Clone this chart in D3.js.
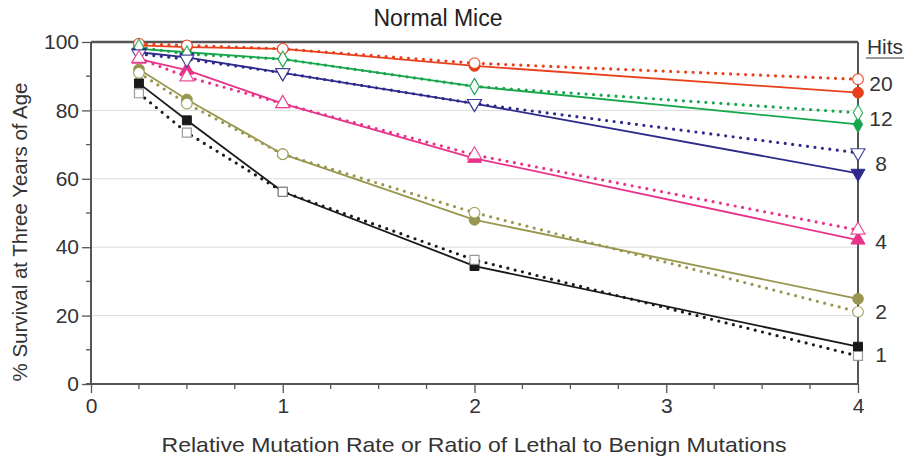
<!DOCTYPE html>
<html>
<head>
<meta charset="utf-8">
<script src="https://cdn.jsdelivr.net/npm/d3@7"></script>
<style>
  html, body { margin: 0; padding: 0; background: #fff; }
  svg { display: block; font-family: "Liberation Sans", Arial, sans-serif; }
</style>
</head>
<body>
<svg id="chart" width="907" height="464"></svg>
<script>
// ---------- data ----------
const xValues = [0.25, 0.5, 1, 2, 4];
const hitLabels = ["20", "12", "8", "4", "2", "1"];

const hits20Solid  = [99, 98.5, 98, 93, 85.2];
const hits20Dotted = [99.5, 99, 98, 93.8, 89.1];
const hits12Solid  = [98, 97, 95, 87, 75.9];
const hits12Dotted = [98.5, 96.5, 95, 87, 79.3];
const hits8Solid   = [97, 95.5, 91, 82, 61.6];
const hits8Dotted  = [96.5, 95, 91, 82, 67.6];
const hits4Solid   = [95, 91.8, 82, 66, 42.1];
const hits4Dotted  = [95.2, 89.8, 82, 67, 45];
const hits2Solid   = [92, 83.2, 67.2, 48, 24.9];
const hits2Dotted  = [91, 82, 67.2, 50.1, 21.1];
const hits1Solid   = [87.9, 77.1, 56.2, 34.5, 10.9];
const hits1Dotted  = [85, 73.5, 56.2, 36.3, 8.2];

const xTicks = [0, 1, 2, 3, 4];
const yTicks = [0, 20, 40, 60, 80, 100];
const gridValues = [20, 40, 60, 80];

const series = [
  {hits: "20", color: "#e8401c", shape: "circle",   solid: hits20Solid, dotted: hits20Dotted},
  {hits: "12", color: "#17a64c", shape: "diamond",  solid: hits12Solid, dotted: hits12Dotted},
  {hits: "8",  color: "#2d2a8c", shape: "down",     solid: hits8Solid,  dotted: hits8Dotted},
  {hits: "4",  color: "#e8338a", shape: "up",       solid: hits4Solid,  dotted: hits4Dotted},
  {hits: "2",  color: "#999650", shape: "circle",   solid: hits2Solid,  dotted: hits2Dotted},
  {hits: "1",  color: "#1a1a1a", shape: "square",   solid: hits1Solid,  dotted: hits1Dotted}
];

// ---------- layout ----------
const svg = d3.select("#chart");
const pL = 91, pR = 858, pT = 42, pB = 384;
const x = d3.scaleLinear().domain([0, 4]).range([pL, pR]);
const y = d3.scaleLinear().domain([0, 100]).range([pB, pT]);
const axisColor = "#555";
const textColor = "#333";
const fontFam = "'Liberation Sans', Arial, sans-serif";

// gridlines
svg.append("g").selectAll("line").data(gridValues).join("line")
  .attr("x1", pL).attr("x2", pR)
  .attr("y1", d => y(d)).attr("y2", d => y(d))
  .attr("stroke", "#dcdcdc").attr("stroke-width", 1);

// y axis
const yAxis = d3.axisLeft(y).tickValues(yTicks).tickSize(9).tickPadding(3).tickFormat(d3.format("d"));
const gy = svg.append("g").attr("transform", `translate(${pL},0)`).call(yAxis);
gy.select(".domain").remove();
gy.selectAll(".tick line").attr("stroke", axisColor).attr("stroke-width", 1.3);
gy.selectAll(".tick text").attr("font-size", 21).attr("fill", textColor).attr("font-family", fontFam);
const yMinor = d3.range(10, 100, 20);
svg.append("g").selectAll("line").data(yMinor).join("line")
  .attr("x1", pL - 5).attr("x2", pL)
  .attr("y1", d => y(d)).attr("y2", d => y(d))
  .attr("stroke", axisColor).attr("stroke-width", 1.3);

// x axis
const xAxis = d3.axisBottom(x).tickValues(xTicks).tickSize(9).tickPadding(5).tickFormat(d3.format("d"));
const gx = svg.append("g").attr("transform", `translate(0,${pB})`).call(xAxis);
gx.select(".domain").remove();
gx.selectAll(".tick line").attr("stroke", axisColor).attr("stroke-width", 1.3);
gx.selectAll(".tick text").attr("font-size", 21).attr("fill", textColor).attr("font-family", fontFam);
const xMinor = d3.range(0.25, 4, 0.25).filter(v => Math.abs(v - Math.round(v)) > 0.01);
svg.append("g").selectAll("line").data(xMinor).join("line")
  .attr("x1", d => x(d)).attr("x2", d => x(d))
  .attr("y1", pB).attr("y2", pB + 5)
  .attr("stroke", axisColor).attr("stroke-width", 1.3);

// frame lines
svg.append("line").attr("x1", pL - 5).attr("x2", pR).attr("y1", pB).attr("y2", pB)
  .attr("stroke", axisColor).attr("stroke-width", 2);
svg.append("line").attr("x1", pL).attr("x2", pL).attr("y1", pT).attr("y2", pB)
  .attr("stroke", axisColor).attr("stroke-width", 2);
svg.append("line").attr("x1", pL).attr("x2", pR).attr("y1", pT).attr("y2", pT)
  .attr("stroke", axisColor).attr("stroke-width", 2.5);
svg.append("line").attr("x1", pR).attr("x2", pR).attr("y1", pT).attr("y2", pB)
  .attr("stroke", axisColor).attr("stroke-width", 2);

// lines
const line = d3.line().x((d, i) => x(xValues[i])).y(d => y(d));
const lineG = svg.append("g");
series.forEach(s => {
  lineG.append("path").datum(s.dotted).attr("d", line)
    .attr("fill", "none").attr("stroke", s.color).attr("stroke-width", 3.2)
    .attr("stroke-linecap", "round").attr("stroke-dasharray", "0 7.5");
  lineG.append("path").datum(s.solid).attr("d", line)
    .attr("fill", "none").attr("stroke", s.color).attr("stroke-width", 1.8);
});

// markers
function symbolFor(shape) {
  if (shape === "circle") return d3.symbol().type(d3.symbolCircle).size(90)();
  if (shape === "diamond") return d3.symbol().type(d3.symbolDiamond).size(75)();
  if (shape === "square") return d3.symbol().type(d3.symbolSquare).size(80)();
  return d3.symbol().type(d3.symbolTriangle).size(85)();
}
const markG = svg.append("g");
series.forEach(s => {
  const rot = s.shape === "down" ? 180 : 0;
  markG.selectAll(null).data(s.solid).join("path")
    .attr("d", symbolFor(s.shape))
    .attr("transform", (d, i) => `translate(${x(xValues[i])},${y(d)}) rotate(${rot})`)
    .attr("fill", s.color).attr("stroke", s.color).attr("stroke-width", 1);
});
series.forEach(s => {
  const rot = s.shape === "down" ? 180 : 0;
  markG.selectAll(null).data(s.dotted).join("path")
    .attr("d", symbolFor(s.shape))
    .attr("transform", (d, i) => `translate(${x(xValues[i])},${y(d)}) rotate(${rot})`)
    .attr("fill", "#fff").attr("stroke", s.shape === "square" ? "#888" : s.color).attr("stroke-width", 1.2)
    .attr("stroke-opacity", 0.85);
});

// hits labels
const hitY = [83, 118, 163, 241, 311, 354];
svg.append("text").attr("x", 885).attr("y", 54).attr("text-anchor", "middle")
  .attr("font-size", 21).attr("fill", textColor).text("Hits");
svg.append("line").attr("x1", 866).attr("x2", 904).attr("y1", 58).attr("y2", 58)
  .attr("stroke", textColor).attr("stroke-width", 1.2);
svg.append("g").selectAll("text").data(hitLabels).join("text")
  .attr("x", 881).attr("y", (d, i) => hitY[i] + 8).attr("text-anchor", "middle")
  .attr("font-size", 21).attr("fill", textColor).text(d => d);

// titles
svg.append("text").attr("x", 438).attr("y", 26).attr("text-anchor", "middle")
  .attr("font-size", 23).attr("fill", "#222").text("Normal Mice");
svg.append("text").attr("x", 474).attr("y", 452).attr("text-anchor", "middle")
  .attr("font-size", 21).attr("fill", textColor)
  .attr("textLength", 625).attr("lengthAdjust", "spacingAndGlyphs")
  .text("Relative Mutation Rate or Ratio of Lethal to Benign Mutations");
svg.append("text").attr("transform", "translate(27,232) rotate(-90)").attr("text-anchor", "middle")
  .attr("font-size", 20).attr("fill", textColor)
  .attr("textLength", 299).attr("lengthAdjust", "spacingAndGlyphs")
  .text("% Survival at Three Years of Age");
</script>
</body>
</html>
